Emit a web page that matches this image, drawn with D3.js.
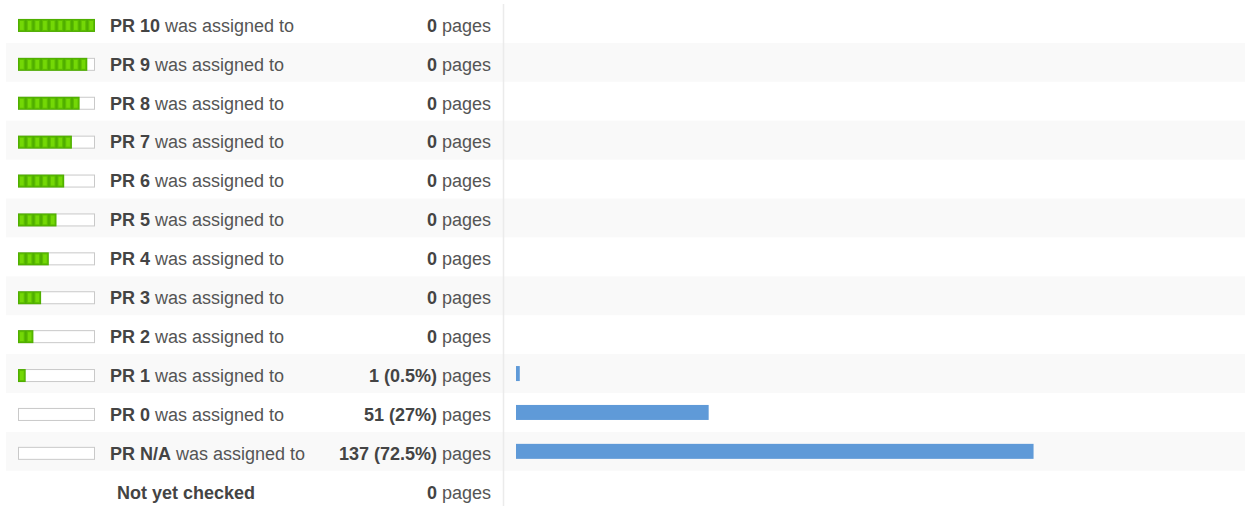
<!DOCTYPE html>
<html lang="en">
<head>
<meta charset="utf-8">
<title>PR distribution</title>
<script src="https://d3js.org/d3.v7.min.js"></script>
<style>
  body { margin: 0; background: #fff; }
  svg { display: block; font-family: "Liberation Sans", Arial, sans-serif; }
</style>
</head>
<body>
<script>
// rows of the table, top to bottom
const ranks = ["10", "9", "8", "7", "6", "5", "4", "3", "2", "1", "0", "N/A"];
const rankLevel = [10, 9, 8, 7, 6, 5, 4, 3, 2, 1, 0, 0];
const pageCounts = [0, 0, 0, 0, 0, 0, 0, 0, 0, 1, 51, 137];
const pagePercents = ["", "", "", "", "", "", "", "", "", "0.5%", "27%", "72.5%"];
const uncheckedCount = 0;
const totalPages = 189;

const width = 1245;
const height = 506;
const rowTop = 4;
const rowH = 38.9;

const svg = d3.select("body").append("svg")
  .attr("width", width)
  .attr("height", height)
  .attr("viewBox", [0, 0, width, height]);

const rows = ranks.map((r, i) => ({
  rank: r, level: rankLevel[i], count: pageCounts[i], pct: pagePercents[i]
}));
rows.push({ unchecked: true, count: uncheckedCount, pct: "" });

const y = d3.scaleBand()
  .domain(d3.range(rows.length))
  .range([rowTop, rowTop + rowH * rows.length])
  .padding(0);

const x = d3.scaleLinear()
  .domain([0, totalPages])
  .range([516, 1230]);

// striped rows
svg.append("g")
  .selectAll("rect")
  .data(rows.filter((d, i) => i % 2 === 1))
  .join("rect")
  .attr("x", 6)
  .attr("y", d => y(rows.indexOf(d)))
  .attr("width", width - 6)
  .attr("height", y.bandwidth())
  .attr("fill", "#f9f9f9");

// column separator
svg.append("line")
  .attr("x1", 503.5).attr("x2", 503.5)
  .attr("y1", rowTop).attr("y2", height)
  .attr("stroke", "#ebebeb")
  .attr("stroke-width", 1.5);

const row = svg.append("g")
  .selectAll("g")
  .data(rows)
  .join("g")
  .attr("transform", (d, i) => `translate(0,${y(i)})`);

// PR meter icons
const seg = 7.7;
const icon = row.filter(d => !d.unchecked).append("g")
  .attr("transform", `translate(18,${y.bandwidth() / 2 - 4.5})`);

icon.append("rect")
  .attr("x", 0.5).attr("y", 0.5)
  .attr("width", 76).attr("height", 12)
  .attr("fill", "#fff")
  .attr("stroke", "#c9c9c9");

icon.filter(d => d.level > 0).append("rect")
  .attr("x", 0).attr("y", 0)
  .attr("width", d => d.level * seg).attr("height", 13)
  .attr("fill", "#4fae00");

icon.selectAll(".seg")
  .data(d => d3.range(d.level))
  .join("rect")
  .attr("class", "seg")
  .attr("x", k => k * seg + 1.5)
  .attr("y", 1.5)
  .attr("width", seg - 3)
  .attr("height", 10)
  .attr("fill", "#74d806")
  .attr("stroke", "#5cbd00")
  .attr("stroke-width", 1);

// labels
const label = row.append("text")
  .attr("y", y.bandwidth() / 2 + 8.3)
  .attr("font-size", 18)
  .attr("fill", "#555");

label.filter(d => !d.unchecked)
  .attr("x", 110)
  .call(t => t.append("tspan").attr("font-weight", "bold").attr("fill", "#444").text(d => `PR ${d.rank}`))
  .call(t => t.append("tspan").text(" was assigned to"));

label.filter(d => d.unchecked)
  .attr("x", 186)
  .attr("text-anchor", "middle")
  .attr("font-weight", "bold")
  .attr("fill", "#444")
  .text("Not yet checked");

// page counts
row.append("text")
  .attr("x", 491)
  .attr("y", y.bandwidth() / 2 + 8.3)
  .attr("text-anchor", "end")
  .attr("font-size", 18)
  .attr("fill", "#555")
  .call(t => t.append("tspan").attr("font-weight", "bold").attr("fill", "#444")
    .text(d => d.pct ? `${d.count} (${d.pct})` : `${d.count}`))
  .call(t => t.append("tspan").text(" pages"));

// bars
row.filter(d => d.count > 0).append("rect")
  .attr("x", x(0))
  .attr("y", y.bandwidth() / 2 - 7.5)
  .attr("width", d => x(d.count) - x(0))
  .attr("height", 15)
  .attr("fill", "#5f9ad8");
</script>
</body>
</html>
